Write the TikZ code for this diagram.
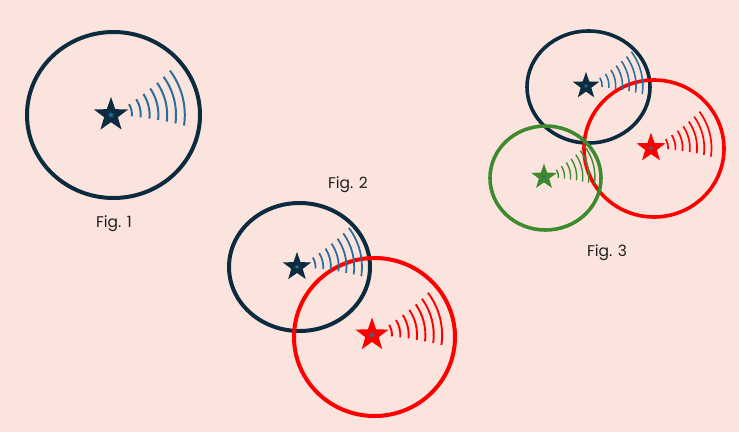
\documentclass[tikz,border=0pt]{standalone}
\usepackage{fontspec}
\setmainfont{Poppins}
\usetikzlibrary{shapes.geometric,calc}
\definecolor{bg}{HTML}{FCE4DE}
\definecolor{navy}{HTML}{0D2B3E}
\definecolor{wave}{HTML}{2A6D98}
\definecolor{redc}{HTML}{FF0000}
\definecolor{greenc}{HTML}{3F8A2F}
\definecolor{txt}{HTML}{1E1E1E}
\tikzset{
  ring/.style={line width=4pt},
  starnode/.style={star, star points=5, star point ratio=2.5, inner sep=0pt, draw=none},
  corestar/.style={star, star points=5, star point ratio=2.5, inner sep=0pt, minimum size=6.5pt, fill=wave, draw=none},
  figlabel/.style={font=\fontsize{15.5}{18}\selectfont, text=txt, inner sep=0pt},
}
% #1 centre, #2 scale, #3 colour
\newcommand\signalarcs[3]{%
  \foreach \i in {0,...,6} {
    \pgfmathsetmacro\rr{#2*(21+8.8*\i)}
    \pgfmathsetmacro\aa{4+0.7*\i}
    \pgfmathsetmacro\bb{-(31+1.0*\i)}
    \draw[#3, line width=#2*2pt] ($(#1)+(\aa:\rr)$) arc[start angle=\aa, end angle=\bb, radius=\rr];
  }}
\begin{document}
\begin{tikzpicture}[x=1pt,y=-1pt]
\fill[bg] (0,0) rectangle (739,432);
\useasboundingbox (0,0) rectangle (739,432);

% ---- Fig. 1
\coordinate (c1) at (113.5,115);
\coordinate (p1) at (111,115);
\draw[ring, navy] (c1) ellipse [x radius=86.5, y radius=83];
\signalarcs{p1}{1}{wave}
\node[starnode, fill=navy, minimum size=36pt] (s1) at (p1) {};
\node[corestar] (s1c) at (p1) {};
\node[figlabel] (f1) at (114,224) {Fig. 1};

% ---- Fig. 2
\coordinate (c2a) at (299.5,267);
\coordinate (p2a) at (297,267);
\coordinate (c2b) at (374.5,337);
\coordinate (p2b) at (372,335);
\draw[ring, navy] (c2a) ellipse [x radius=70.5, y radius=64];
\draw[ring, redc] (c2b) ellipse [x radius=80.5, y radius=79];
\signalarcs{p2a}{0.88}{wave}
\signalarcs{p2b}{0.95}{redc}
\node[starnode, fill=navy, minimum size=30pt] (s2a) at (p2a) {};
\node[corestar, minimum size=5pt] (s2ac) at (p2a) {};
\node[starnode, fill=redc, minimum size=35pt] (s2b) at (p2b) {};
\node[corestar] (s2bc) at (p2b) {};
\node[figlabel] (f2) at (348,185) {Fig. 2};

% ---- Fig. 3
\coordinate (c3a) at (588.5,87);
\coordinate (p3a) at (586,86);
\coordinate (c3b) at (654,148.5);
\coordinate (p3b) at (651,148);
\coordinate (c3c) at (545.5,178);
\coordinate (p3c) at (544,177);
\draw[ring, line width=3.6pt, navy] (c3a) ellipse [x radius=61.5, y radius=56];
\draw[ring, line width=3.6pt, redc] (c3b) ellipse [x radius=70, y radius=68.5];
\draw[ring, line width=3.6pt, greenc] (c3c) ellipse [x radius=55.5, y radius=52];
\signalarcs{p3a}{0.77}{wave}
\signalarcs{p3b}{0.82}{redc}
\signalarcs{p3c}{0.69}{greenc}
\node[starnode, fill=navy, minimum size=28pt] (s3a) at (p3a) {};
\node[corestar, minimum size=4.5pt] (s3ac) at (p3a) {};
\node[starnode, fill=redc, minimum size=30.5pt] (s3b) at (p3b) {};
\node[corestar, minimum size=5pt] (s3bc) at (p3b) {};
\node[starnode, fill=greenc, minimum size=27pt] (s3c) at (p3c) {};
\node[corestar, minimum size=4pt] (s3cc) at (p3c) {};
\node[figlabel] (f3) at (607,253) {Fig. 3};
\end{tikzpicture}
\end{document}
